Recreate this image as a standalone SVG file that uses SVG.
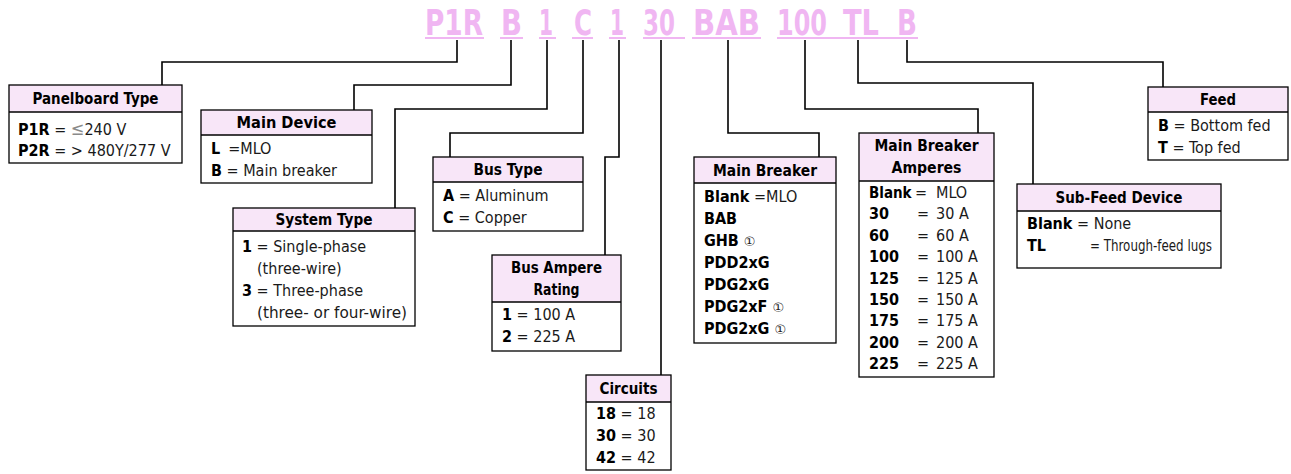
<svg xmlns="http://www.w3.org/2000/svg" width="1291" height="474" viewBox="0 0 1291 474">
<style>
text{font-family:"DejaVu Sans Condensed","DejaVu Sans","Liberation Sans",sans-serif;fill:#1a1a1a}
.code{font-size:35px;font-weight:bold;fill:#F0B6F2}
.ul{fill:#F0B6F2}
.hd{fill:#F8E6F8;stroke:none}
.bx{fill:none;stroke:#000;stroke-width:1.3}
.h{font-size:16.5px;font-weight:bold;text-anchor:middle;fill:#000}
.t{font-size:16px}
.b{font-weight:bold;fill:#000}
.le{fill:#8a8a8a;font-size:18px}
.c{font-family:"DejaVu Sans","Noto Sans CJK JP",sans-serif;font-size:13px;font-weight:normal;fill:#222}
#conn path{fill:none;stroke:#000;stroke-width:1.6}
</style>
<g id="code">
<text class="code" x="425" y="35" textLength="58" lengthAdjust="spacingAndGlyphs">P1R</text>
<text class="code" x="501" y="35" textLength="21" lengthAdjust="spacingAndGlyphs">B</text>
<text class="code" x="539" y="35" textLength="14" lengthAdjust="spacingAndGlyphs">1</text>
<text class="code" x="574" y="35" textLength="18" lengthAdjust="spacingAndGlyphs">C</text>
<text class="code" x="610" y="35" textLength="14" lengthAdjust="spacingAndGlyphs">1</text>
<text class="code" x="643" y="35" textLength="32" lengthAdjust="spacingAndGlyphs">30</text>
<text class="code" x="693" y="35" textLength="67" lengthAdjust="spacingAndGlyphs">BAB</text>
<text class="code" x="777" y="35" textLength="50" lengthAdjust="spacingAndGlyphs">100</text>
<text class="code" x="843" y="35" textLength="36" lengthAdjust="spacingAndGlyphs">TL</text>
<text class="code" x="897" y="35" textLength="20" lengthAdjust="spacingAndGlyphs">B</text>
<rect class="ul" x="425" y="37" width="59" height="2"/>
<rect class="ul" x="500" y="37" width="23" height="2"/>
<rect class="ul" x="539" y="37" width="17" height="2"/>
<rect class="ul" x="572" y="37" width="21" height="2"/>
<rect class="ul" x="609" y="37" width="17" height="2"/>
<rect class="ul" x="643" y="37" width="42" height="2"/>
<rect class="ul" x="692" y="37" width="69" height="2"/>
<rect class="ul" x="777" y="37" width="141" height="2"/>
</g>
<g id="conn">
<path d="M457,40 V62 H162 V85"/>
<path d="M511,40 V85 H354 V110"/>
<path d="M547,40 V109 H395 V208"/>
<path d="M583,40 V133 H450 V157"/>
<path d="M619,40 V157 H605 V255"/>
<path d="M661,40 V375"/>
<path d="M728,40 V133 H819 V157"/>
<path d="M805,40 V109 H978 V133"/>
<path d="M858,40 V83 H1033 V184"/>
<path d="M907,40 V62 H1163 V87"/>
</g>
<g id="panelboard-type">
<rect class="hd" x="9" y="85" width="173" height="27"/>
<rect class="bx" x="9" y="85" width="173" height="78"/>
<line class="bx" x1="9" y1="112" x2="182" y2="112"/>
<text class="h" x="95.5" y="104" textLength="126" lengthAdjust="spacingAndGlyphs">Panelboard Type</text>
<text class="t" x="18" y="135"><tspan class="b">P1R</tspan> = <tspan class="le">≤</tspan>240 V</text>
<text class="t" x="18" y="156"><tspan class="b">P2R</tspan> = &gt; 480Y/277 V</text>
</g>
<g id="main-device">
<rect class="hd" x="201" y="110" width="171" height="25"/>
<rect class="bx" x="201" y="110" width="171" height="73"/>
<line class="bx" x1="201" y1="135" x2="372" y2="135"/>
<text class="h" x="286.5" y="128" textLength="100" lengthAdjust="spacingAndGlyphs">Main Device</text>
<text class="t" x="211" y="154"><tspan class="b">L</tspan><tspan dx="8">=MLO</tspan></text>
<text class="t" x="211" y="176"><tspan class="b">B</tspan> = Main breaker</text>
</g>
<g id="system-type">
<rect class="hd" x="233" y="208" width="182" height="23"/>
<rect class="bx" x="233" y="208" width="182" height="118"/>
<line class="bx" x1="233" y1="231" x2="415" y2="231"/>
<text class="h" x="324" y="225" textLength="97" lengthAdjust="spacingAndGlyphs">System Type</text>
<text class="t" x="242" y="252"><tspan class="b">1</tspan> = Single-phase</text>
<text class="t" x="257" y="274">(three-wire)</text>
<text class="t" x="242" y="296"><tspan class="b">3</tspan> = Three-phase</text>
<text class="t" x="257" y="318" textLength="150" lengthAdjust="spacingAndGlyphs">(three- or four-wire)</text>
</g>
<g id="bus-type">
<rect class="hd" x="433" y="157" width="150" height="25"/>
<rect class="bx" x="433" y="157" width="150" height="74"/>
<line class="bx" x1="433" y1="182" x2="583" y2="182"/>
<text class="h" x="508" y="175" textLength="69" lengthAdjust="spacingAndGlyphs">Bus Type</text>
<text class="t" x="443" y="201"><tspan class="b">A</tspan> = Aluminum</text>
<text class="t" x="443" y="223"><tspan class="b">C</tspan> = Copper</text>
</g>
<g id="bus-ampere-rating">
<rect class="hd" x="492" y="255" width="129" height="47"/>
<rect class="bx" x="492" y="255" width="129" height="96"/>
<line class="bx" x1="492" y1="302" x2="621" y2="302"/>
<text class="h" x="556.5" y="273" textLength="91" lengthAdjust="spacingAndGlyphs">Bus Ampere</text>
<text class="h" x="556.5" y="295" textLength="46" lengthAdjust="spacingAndGlyphs">Rating</text>
<text class="t" x="502" y="320"><tspan class="b">1</tspan> = 100 A</text>
<text class="t" x="502" y="342"><tspan class="b">2</tspan> = 225 A</text>
</g>
<g id="circuits">
<rect class="hd" x="586" y="375" width="85" height="27"/>
<rect class="bx" x="586" y="375" width="85" height="95"/>
<line class="bx" x1="586" y1="402" x2="671" y2="402"/>
<text class="h" x="628.5" y="393.5" textLength="58" lengthAdjust="spacingAndGlyphs">Circuits</text>
<text class="t" x="596" y="419"><tspan class="b">18</tspan> = 18</text>
<text class="t" x="596" y="441"><tspan class="b">30</tspan> = 30</text>
<text class="t" x="596" y="463"><tspan class="b">42</tspan> = 42</text>
</g>
<g id="main-breaker">
<rect class="hd" x="694" y="157" width="142" height="26"/>
<rect class="bx" x="694" y="157" width="142" height="186"/>
<line class="bx" x1="694" y1="183" x2="836" y2="183"/>
<text class="h" x="765" y="175.5" textLength="104" lengthAdjust="spacingAndGlyphs">Main Breaker</text>
<text class="t" x="704" y="202"><tspan class="b">Blank</tspan> =MLO</text>
<text class="t b" x="704" y="224">BAB</text>
<text class="t b" x="704" y="246">GHB <tspan class="c">①</tspan></text>
<text class="t b" x="704" y="268">PDD2xG</text>
<text class="t b" x="704" y="290">PDG2xG</text>
<text class="t b" x="704" y="312">PDG2xF <tspan class="c">①</tspan></text>
<text class="t b" x="704" y="334">PDG2xG <tspan class="c">①</tspan></text>
</g>
<g id="main-breaker-amperes">
<rect class="hd" x="859" y="133" width="135" height="48"/>
<rect class="bx" x="859" y="133" width="135" height="244"/>
<line class="bx" x1="859" y1="181" x2="994" y2="181"/>
<text class="h" x="926.5" y="151" textLength="104" lengthAdjust="spacingAndGlyphs">Main Breaker</text>
<text class="h" x="926.5" y="173" textLength="70" lengthAdjust="spacingAndGlyphs">Amperes</text>
<text class="b" x="869" y="198" font-size="15">Blank</text><text class="t" x="915" y="198">=</text><text class="t" x="936" y="198">MLO</text>
<text class="t b" x="869" y="219.4">30</text><text class="t" x="917" y="219.4">=</text><text class="t" x="936" y="219.4">30 A</text>
<text class="t b" x="869" y="240.8">60</text><text class="t" x="917" y="240.8">=</text><text class="t" x="936" y="240.8">60 A</text>
<text class="t b" x="869" y="262.2">100</text><text class="t" x="917" y="262.2">=</text><text class="t" x="936" y="262.2">100 A</text>
<text class="t b" x="869" y="283.6">125</text><text class="t" x="917" y="283.6">=</text><text class="t" x="936" y="283.6">125 A</text>
<text class="t b" x="869" y="305">150</text><text class="t" x="917" y="305">=</text><text class="t" x="936" y="305">150 A</text>
<text class="t b" x="869" y="326.4">175</text><text class="t" x="917" y="326.4">=</text><text class="t" x="936" y="326.4">175 A</text>
<text class="t b" x="869" y="347.8">200</text><text class="t" x="917" y="347.8">=</text><text class="t" x="936" y="347.8">200 A</text>
<text class="t b" x="869" y="369.2">225</text><text class="t" x="917" y="369.2">=</text><text class="t" x="936" y="369.2">225 A</text>
</g>
<g id="sub-feed-device">
<rect class="hd" x="1017" y="184" width="204" height="27"/>
<rect class="bx" x="1017" y="184" width="204" height="84"/>
<line class="bx" x1="1017" y1="211" x2="1221" y2="211"/>
<text class="h" x="1119" y="203" textLength="127" lengthAdjust="spacingAndGlyphs">Sub-Feed Device</text>
<text class="t" x="1027" y="229"><tspan class="b">Blank</tspan> = None</text>
<text class="t b" x="1027" y="251">TL</text>
<text x="1090" y="251" font-size="15.5" textLength="122" lengthAdjust="spacingAndGlyphs">= Through-feed lugs</text>
</g>
<g id="feed">
<rect class="hd" x="1148" y="87" width="140" height="25"/>
<rect class="bx" x="1148" y="87" width="140" height="73"/>
<line class="bx" x1="1148" y1="112" x2="1288" y2="112"/>
<text class="h" x="1218" y="105" textLength="36" lengthAdjust="spacingAndGlyphs">Feed</text>
<text class="t" x="1158" y="131"><tspan class="b">B</tspan> = Bottom fed</text>
<text class="t" x="1158" y="153"><tspan class="b">T</tspan> = Top fed</text>
</g>
</svg>
